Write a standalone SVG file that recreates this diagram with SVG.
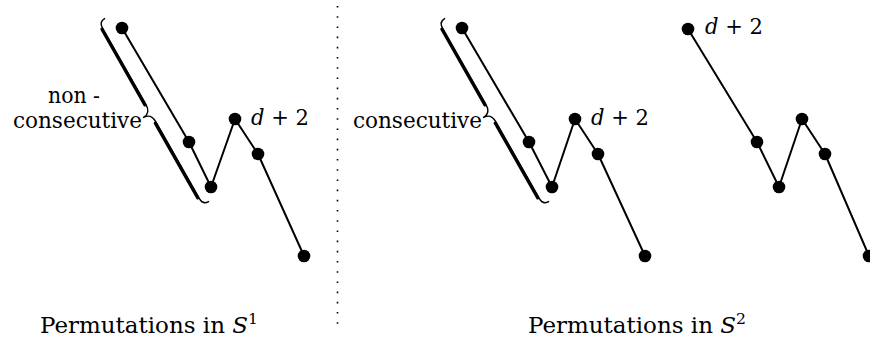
<svg xmlns="http://www.w3.org/2000/svg" width="870" height="342" viewBox="0 0 870 342">
<style>
text{font-family:'DejaVu Serif','Liberation Serif',serif;font-size:22px;fill:#000}
.i{font-style:italic}
.ln{stroke:#000;stroke-width:2;fill:none;stroke-linecap:round;stroke-linejoin:round}
.br{stroke:#000;fill:none;stroke-linecap:round;stroke-linejoin:round}
.dot{fill:#000}
</style>
<defs>
<g id="brace">
<path class="br" stroke-width="1.4" d="M0,-3 Q0,3.5 7,3.5 L95,3.5 C102,3.5 105,6 105.2,12 C105.4,6 108,3.5 115,3.5 L204,3.5 Q210.5,3.5 210.5,-3"/>
<path class="br" stroke-width="3.2" d="M8,4.6 L95,4.6 M116,4.6 L202,4.6"/>
</g>
</defs>
<line x1="337.5" y1="6" x2="337.5" y2="325" stroke="#000" stroke-width="1.6" stroke-dasharray="1.6 8.6"/>
<g id="connectors">
<polyline class="ln" points="122,28 189,142 211,187 235,119 258,154 304,256"/>
<polyline class="ln" points="462,28 529,142 552,187 575,119 598,154 645,256"/>
<polyline class="ln" points="688,29 757,142 779,187 802,119 825,154 869,256"/>
</g>
<g id="brace-left"><use href="#brace" transform="translate(102,20) rotate(60.4)"/></g>
<g id="brace-mid"><use href="#brace" transform="translate(442,20) rotate(60.4)"/></g>
<g id="l1"><circle class="dot" cx="122" cy="28" r="6.3"/></g>
<g id="l2"><circle class="dot" cx="189" cy="142" r="6.3"/></g>
<g id="l3"><circle class="dot" cx="211" cy="187" r="6.3"/></g>
<g id="l4"><circle class="dot" cx="235" cy="119" r="6.3"/></g>
<g id="l5"><circle class="dot" cx="258" cy="154" r="6.3"/></g>
<g id="l6"><circle class="dot" cx="304" cy="256" r="6.3"/></g>
<g id="m1"><circle class="dot" cx="462" cy="28" r="6.3"/></g>
<g id="m2"><circle class="dot" cx="529" cy="142" r="6.3"/></g>
<g id="m3"><circle class="dot" cx="552" cy="187" r="6.3"/></g>
<g id="m4"><circle class="dot" cx="575" cy="119" r="6.3"/></g>
<g id="m5"><circle class="dot" cx="598" cy="154" r="6.3"/></g>
<g id="m6"><circle class="dot" cx="645" cy="256" r="6.3"/></g>
<g id="r1"><circle class="dot" cx="688" cy="29" r="6.3"/></g>
<g id="r2"><circle class="dot" cx="757" cy="142" r="6.3"/></g>
<g id="r3"><circle class="dot" cx="779" cy="187" r="6.3"/></g>
<g id="r4"><circle class="dot" cx="802" cy="119" r="6.3"/></g>
<g id="r5"><circle class="dot" cx="825" cy="154" r="6.3"/></g>
<g id="r6"><circle class="dot" cx="869" cy="256" r="6.3"/></g>
<g id="labels">
<text x="48" y="103" textLength="52" lengthAdjust="spacingAndGlyphs">non -</text>
<text x="13" y="128" textLength="129" lengthAdjust="spacingAndGlyphs">consecutive</text>
<text x="353" y="128" textLength="129" lengthAdjust="spacingAndGlyphs">consecutive</text>
<text x="251" y="125" textLength="58" lengthAdjust="spacingAndGlyphs"><tspan class="i">d</tspan> + 2</text>
<text x="591" y="125" textLength="58" lengthAdjust="spacingAndGlyphs"><tspan class="i">d</tspan> + 2</text>
<text x="705" y="34" textLength="58" lengthAdjust="spacingAndGlyphs"><tspan class="i">d</tspan> + 2</text>
<text x="40" y="333" textLength="218" lengthAdjust="spacingAndGlyphs">Permutations in <tspan class="i">S</tspan><tspan font-size="15" dy="-9">1</tspan></text>
<text x="528" y="333" textLength="218" lengthAdjust="spacingAndGlyphs">Permutations in <tspan class="i">S</tspan><tspan font-size="15" dy="-9">2</tspan></text>
</g>
</svg>
